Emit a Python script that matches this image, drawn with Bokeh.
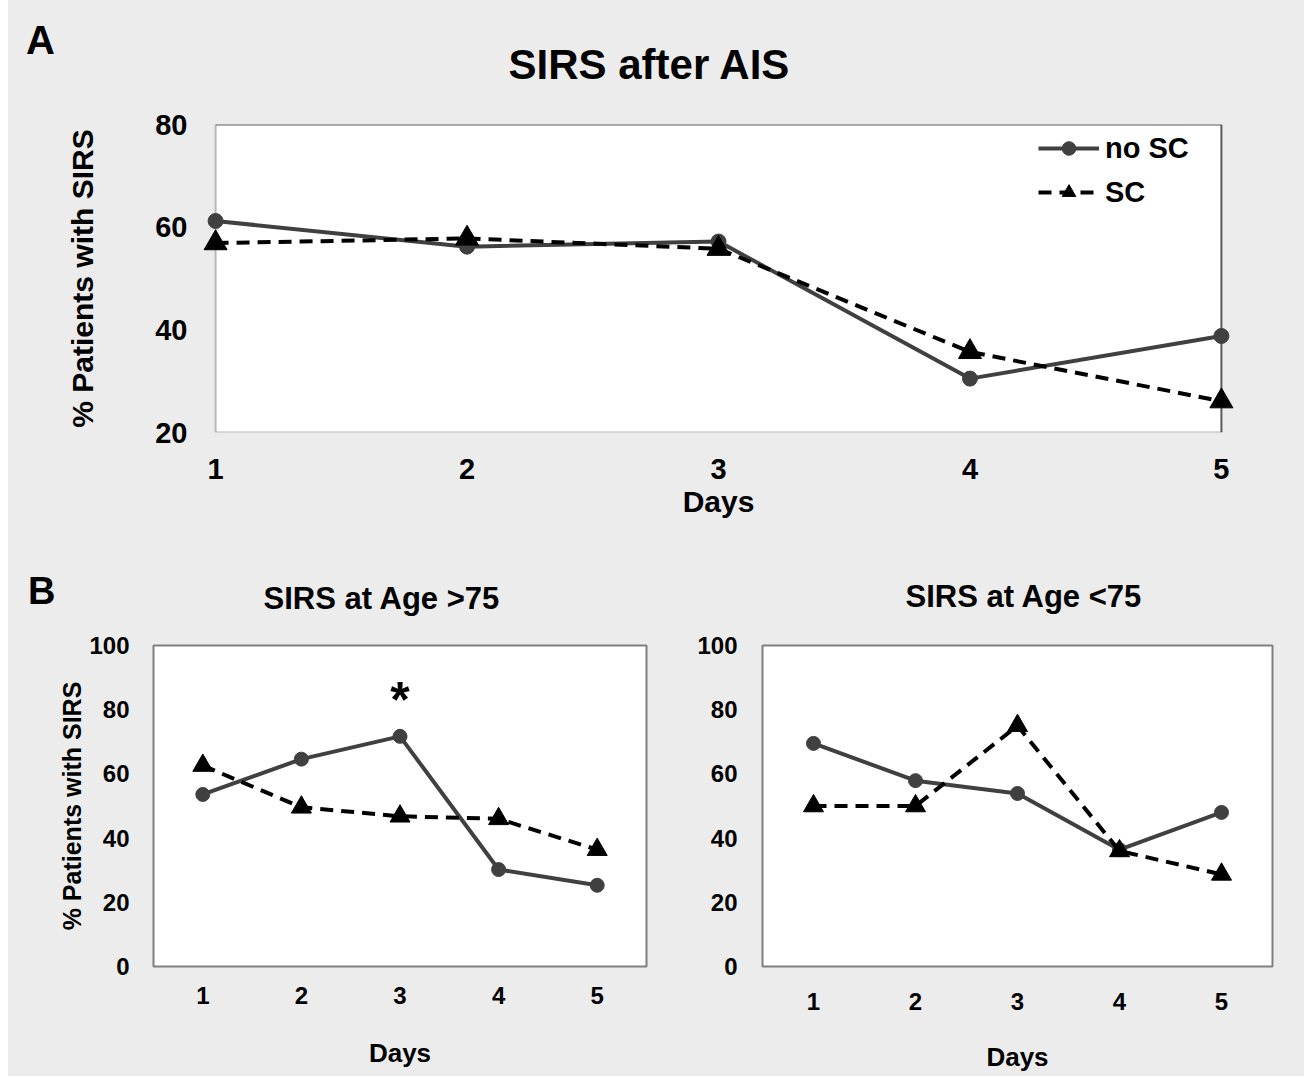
from bokeh.plotting import figure
from bokeh.layouts import column, row
from bokeh.models import Range1d, BoxAnnotation, Legend, LegendItem, Div
from bokeh.embed import file_html
from bokeh.resources import INLINE
from bokeh.core.properties import value

# ---------------- data ----------------
days = [1, 2, 3, 4, 5]
day_labels = ["1", "2", "3", "4", "5"]

# Panel A: SIRS after AIS (all patients)
all_no_sc = [61.2, 56.2, 57.2, 30.5, 38.8]
all_sc = [56.9, 57.8, 55.8, 35.7, 26.1]

# Panel B left: age > 75
old_no_sc = [53.6, 64.6, 71.7, 30.2, 25.3]
old_sc = [62.6, 49.6, 46.8, 46.0, 36.4]

# Panel B right: age < 75
young_no_sc = [69.5, 57.9, 53.9, 36.4, 48.0]
young_sc = [50.0, 50.0, 75.0, 36.0, 28.7]

# significance marker (index of day in the >75 group)
sig_index = [2]

yticks_a = [20, 40, 60, 80]
yticks_b = [0, 20, 40, 60, 80, 100]

series_names = ["no SC", "SC"]
panel_letters = ["A", "B"]

# ---------------- style ----------------
FONT = "Liberation Sans"
GREY = "#ececec"
NOSC_COLOR = "#404040"
SC_COLOR = "#000000"
DASH = "13 8"


def base_fig(width, height, xr, yr, left, right, top, bottom):
    p = figure(width=width, height=height, x_range=xr, y_range=yr,
               output_backend="svg", toolbar_location=None,
               min_border_left=left, min_border_right=right,
               min_border_top=top, min_border_bottom=bottom)
    p.background_fill_color = GREY
    p.border_fill_color = GREY
    p.grid.visible = False
    for ax in p.axis:
        ax.major_tick_line_color = None
        ax.minor_tick_line_color = None
        ax.axis_line_color = None
        ax.major_label_text_font = FONT
        ax.major_label_text_font_style = "bold"
        ax.major_label_text_color = "black"
        ax.axis_label_text_font = FONT
        ax.axis_label_text_font_style = "bold"
        ax.axis_label_text_color = "black"
    p.xaxis.ticker = days
    p.xaxis.major_label_overrides = {d: s for d, s in zip(days, day_labels)}
    p.title.text_font = FONT
    p.title.text_font_style = "bold"
    p.title.text_color = "black"
    p.title.align = "left"
    return p


def draw_series(p, no_sc, sc, circ_size, tri_size, lw):
    r1 = p.line(days, no_sc, line_color=NOSC_COLOR, line_width=lw)
    s1 = p.scatter(days, no_sc, marker="circle", size=circ_size,
                   fill_color=NOSC_COLOR, line_color=NOSC_COLOR)
    r2 = p.line(days, sc, line_color=SC_COLOR, line_width=lw, line_dash=DASH)
    s2 = p.scatter(days, sc, marker="triangle", size=tri_size,
                   fill_color=SC_COLOR, line_color=SC_COLOR)
    return (r1, s1), (r2, s2)


def letter_div(letter, width, height, size, pad_top, pad_left):
    html = ('<div style="font-family:\'%s\';font-size:%dpx;font-weight:bold;'
            'line-height:%dpx;color:black;padding-top:%dpx;padding-left:%dpx;">%s</div>'
            % (FONT, size, size, pad_top, pad_left, letter))
    return Div(text=html, width=width, height=height, margin=0,
               styles={"background-color": GREY})


# ---------------- Panel A ----------------
pad = 0.06
pA = base_fig(1241, 540, Range1d(days[0] - pad, days[-1] + pad),
              Range1d(yticks_a[0], yticks_a[-1]),
              left=137, right=68, top=124, bottom=108)
pA.outline_line_color = None
pA.title.text = "SIRS after AIS"
pA.title.text_font_size = "42px"
pA.title.offset = 308
pA.title.standoff = 74
pA.yaxis.ticker = yticks_a
pA.yaxis.major_label_text_font_size = "29px"
pA.yaxis.major_label_standoff = 7
pA.yaxis.axis_label = "% Patients with SIRS"
pA.yaxis.axis_label_text_font_size = "30px"
pA.yaxis.axis_label_standoff = 53
pA.xaxis.major_label_text_font_size = "29px"
pA.xaxis.major_label_standoff = 20
pA.xaxis.axis_label = "Days"
pA.xaxis.axis_label_text_font_size = "30px"
pA.xaxis.axis_label_standoff = 3

x0, x1 = days[0], days[-1]
y0, y1 = yticks_a[0], yticks_a[-1]
pA.add_layout(BoxAnnotation(left=x0, right=x1, bottom=y0, top=y1,
                            fill_color="white", fill_alpha=1.0,
                            line_color=None, level="underlay"))
pA.segment(x0=[x0, x0], y0=[y0, y0], x1=[x0, x1], y1=[y1, y0],
           line_color="#b8b8b8", line_width=2)
pA.segment(x0=[x0, x1], y0=[y1, y1], x1=[x1, x1], y1=[y1, y0],
           line_color="#5a5a5a", line_width=2)

a_nosc, a_sc = draw_series(pA, all_no_sc, all_sc, 15, 23, 4)

legend = Legend(items=[LegendItem(label=series_names[0], renderers=list(a_nosc)),
                       LegendItem(label=series_names[1], renderers=list(a_sc))],
                location=(838, 223))
legend.border_line_color = None
legend.background_fill_alpha = 0
legend.label_text_font = FONT
legend.label_text_font_size = "29px"
legend.label_text_font_style = "bold"
legend.label_text_color = "black"
legend.glyph_width = 61
legend.glyph_height = 34
legend.label_height = 34
legend.spacing = 10
legend.padding = 0
legend.margin = 0
legend.label_standoff = 6
pA.add_layout(legend)

divA = letter_div(panel_letters[0], 55, 540, 40, 20, 18)

# ---------------- Panel B left ----------------
pB1 = base_fig(622, 536, Range1d(0.5, 5.5), Range1d(yticks_b[0], yticks_b[-1]),
               left=99, right=30, top=105, bottom=110)
pB1.background_fill_color = "white"
pB1.outline_line_color = "#7f7f7f"
pB1.outline_line_width = 2
pB1.title.text = "SIRS at Age >75"
pB1.title.text_font_size = "31px"
pB1.title.offset = 110
pB1.title.standoff = 59
pB1.yaxis.ticker = yticks_b
pB1.yaxis.major_label_text_font_size = "24px"
pB1.yaxis.major_label_standoff = 18
pB1.yaxis.axis_label = "% Patients with SIRS"
pB1.yaxis.axis_label_text_font_size = "25px"
pB1.yaxis.axis_label_standoff = 0
pB1.xaxis.major_label_text_font_size = "24px"
pB1.xaxis.major_label_standoff = 14
pB1.xaxis.axis_label = "Days"
pB1.xaxis.axis_label_text_font_size = "26px"
pB1.xaxis.axis_label_standoff = 31
draw_series(pB1, old_no_sc, old_sc, 14, 20, 4)
pB1.text(x=[days[i] for i in sig_index], y=[old_no_sc[i] for i in sig_index],
         text=["*"] * len(sig_index), text_font=value(FONT), text_font_size="50px",
         text_font_style="bold", text_align="center", text_baseline="alphabetic",
         y_offset=-36, text_color="black")

divB = letter_div(panel_letters[1], 46, 536, 38, 32, 20)

# ---------------- Panel B right ----------------
pB2 = base_fig(628, 536, Range1d(0.5, 5.5), Range1d(yticks_b[0], yticks_b[-1]),
               left=86, right=32, top=105, bottom=110)
pB2.background_fill_color = "white"
pB2.outline_line_color = "#7f7f7f"
pB2.outline_line_width = 2
pB2.title.text = "SIRS at Age <75"
pB2.title.text_font_size = "31px"
pB2.title.offset = 143
pB2.title.standoff = 63
pB2.yaxis.ticker = yticks_b
pB2.yaxis.major_label_text_font_size = "24px"
pB2.yaxis.major_label_standoff = 19
pB2.xaxis.major_label_text_font_size = "24px"
pB2.xaxis.major_label_standoff = 20
pB2.xaxis.axis_label = "Days"
pB2.xaxis.axis_label_text_font_size = "26px"
pB2.xaxis.axis_label_standoff = 29
draw_series(pB2, young_no_sc, young_sc, 14, 20, 4)

rowA = row(divA, pA, spacing=0, styles={"background-color": GREY})
rowB = row(divB, pB1, pB2, spacing=0, styles={"background-color": GREY})
layout = column(rowA, rowB, spacing=0, margin=(0, 0, 0, 8),
                styles={"background-color": GREY})
open("out.html", "w").write(file_html(layout, INLINE, "SIRS after AIS"))
